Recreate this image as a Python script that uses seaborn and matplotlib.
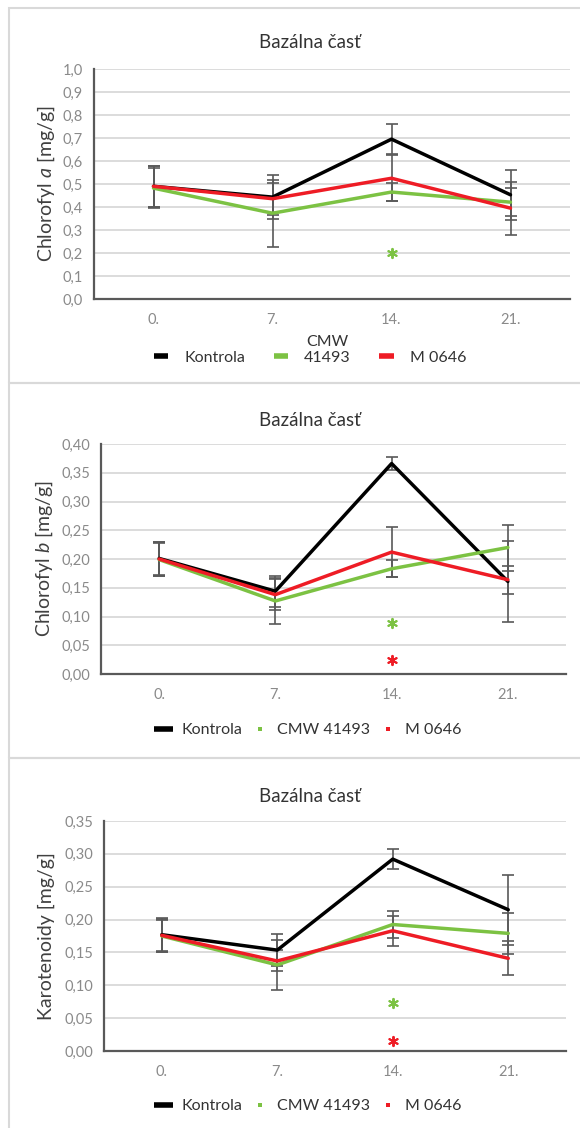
import numpy as np
import pandas as pd
import seaborn as sns
import matplotlib
matplotlib.use("Agg")
import matplotlib.pyplot as plt
from matplotlib.lines import Line2D
from matplotlib.patches import Rectangle
from matplotlib.ticker import FuncFormatter, MultipleLocator

# ---------------- data ----------------
days = ["0.", "7.", "14.", "21."]
series_names = ["Kontrola", "CMW 41493", "M 0646"]
panel_title = "Bazálna časť"

chla_kontrola = [0.490, 0.443, 0.695, 0.453]
chla_cmw = [0.482, 0.373, 0.465, 0.421]
chla_m0646 = [0.490, 0.436, 0.525, 0.395]
chla_err_kontrola = [0.088, 0.095, 0.065, 0.110]
chla_err_cmw = [0.088, 0.145, 0.040, 0.060]
chla_err_m0646 = [0.088, 0.070, 0.100, 0.115]
chla_star_cmw = [None, None, 0.200, None]
chla_star_m0646 = [None, None, None, None]

chlb_kontrola = [0.201, 0.144, 0.366, 0.161]
chlb_cmw = [0.199, 0.127, 0.183, 0.220]
chlb_m0646 = [0.200, 0.138, 0.212, 0.164]
chlb_err_kontrola = [0.029, 0.027, 0.011, 0.070]
chlb_err_cmw = [0.029, 0.040, 0.015, 0.040]
chlb_err_m0646 = [0.029, 0.027, 0.043, 0.024]
chlb_star_cmw = [None, None, 0.088, None]
chlb_star_m0646 = [None, None, 0.024, None]

kar_kontrola = [0.177, 0.1535, 0.292, 0.215]
kar_cmw = [0.175, 0.131, 0.1925, 0.179]
kar_m0646 = [0.176, 0.137, 0.183, 0.141]
kar_err_kontrola = [0.025, 0.024, 0.015, 0.053]
kar_err_cmw = [0.025, 0.038, 0.021, 0.031]
kar_err_m0646 = [0.025, 0.016, 0.023, 0.026]
kar_star_cmw = [None, None, 0.073, None]
kar_star_m0646 = [None, None, 0.015, None]

colors = ["#000000", "#7cc243", "#ee1c25"]

# ---------------- style ----------------
sns.set_theme(style="white")
plt.rcParams["font.family"] = ["Lato", "DejaVu Sans"]
plt.rcParams["mathtext.fontset"] = "custom"
plt.rcParams["mathtext.it"] = "Lato:italic"
plt.rcParams["mathtext.rm"] = "Lato"

W, H = 580, 1128
fig = plt.figure(figsize=(W / 100, H / 100), dpi=100)
fig.patch.set_facecolor("white")

def fx(px):
    return px / W

def fy(py):
    return 1 - py / H

panels = [
    dict(vals=[chla_kontrola, chla_cmw, chla_m0646],
         errs=[chla_err_kontrola, chla_err_cmw, chla_err_m0646],
         stars=[chla_star_cmw, chla_star_m0646],
         ylim=1.0, step=0.1, fmt="{:.1f}",
         ylabel="Chlorofyl $\\it{a}$ [mg/g]",
         box=(94, 570, 69, 299), frame=(9, 8, 383), title_y=43, ylab_x=46,
         legend_y=358, legend_style="lines"),
    dict(vals=[chlb_kontrola, chlb_cmw, chlb_m0646],
         errs=[chlb_err_kontrola, chlb_err_cmw, chlb_err_m0646],
         stars=[chlb_star_cmw, chlb_star_m0646],
         ylim=0.40, step=0.05, fmt="{:.2f}",
         ylabel="Chlorofyl $\\it{b}$ [mg/g]",
         box=(101, 566, 444, 674), frame=(9, 383, 758), title_y=420, ylab_x=44,
         legend_y=730, legend_style="squares"),
    dict(vals=[kar_kontrola, kar_cmw, kar_m0646],
         errs=[kar_err_kontrola, kar_err_cmw, kar_err_m0646],
         stars=[kar_star_cmw, kar_star_m0646],
         ylim=0.35, step=0.05, fmt="{:.2f}",
         ylabel="Karotenoidy [mg/g]",
         box=(104, 566, 821, 1051), frame=(9, 758, 1140), title_y=797, ylab_x=46,
         legend_y=1106, legend_style="squares"),
]

positions = np.arange(len(days))
cmw_texts = []

for p in panels:
    # panel frame
    x0, ytop, ybot = p["frame"]
    fig.add_artist(Rectangle((fx(x0), fy(ybot)), fx(W + 20 - x0), fy(ytop) - fy(ybot),
                             transform=fig.transFigure, fill=False,
                             edgecolor="#d9d9d9", lw=1.5, zorder=0))
    l, r, t, b = p["box"]
    ax = fig.add_axes([fx(l), fy(b), fx(r - l), fy(t) - fy(b)])
    ax.set_facecolor("none")

    rows = []
    for name, vals in zip(series_names, p["vals"]):
        for pos, v in zip(positions, vals):
            rows.append(dict(pos=pos, value=v, series=name))
    df = pd.DataFrame(rows)

    for name, vals, err, c in zip(series_names, p["vals"], p["errs"], colors):
        ax.errorbar(positions, vals, yerr=err, fmt="none", ecolor="#595959",
                    elinewidth=1.2, capsize=4, capthick=1.2, zorder=2)

    sns.lineplot(data=df, x="pos", y="value", hue="series", hue_order=series_names,
                 palette=colors, linewidth=2.5, legend=False, sort=False,
                 estimator=None, ax=ax, zorder=3)

    for star_vals, c in zip(p["stars"], colors[1:]):
        xs = [pos for pos, s in zip(positions, star_vals) if s is not None]
        ys = [s for s in star_vals if s is not None]
        if xs:
            ax.scatter(xs, ys, marker=(6, 2, 0), s=45, color=c, linewidths=1.4, zorder=4)

    ax.set_xlim(-0.5, len(days) - 0.5)
    ax.set_ylim(0, p["ylim"])
    ax.yaxis.set_major_locator(MultipleLocator(p["step"]))
    ax.yaxis.set_major_formatter(FuncFormatter(lambda v, _, f=p["fmt"]: f.format(v).replace(".", ",")))
    ax.set_xticks(positions)
    ax.set_xticklabels(days)
    ax.set_xlabel("")
    ax.set_ylabel("")
    ax.grid(axis="y", color="#d9d9d9", lw=1.3)
    ax.grid(axis="x", visible=False)
    ax.set_axisbelow(True)
    for s in ["top", "right"]:
        ax.spines[s].set_visible(False)
    for s in ["left", "bottom"]:
        ax.spines[s].set_color("#595959")
        ax.spines[s].set_linewidth(1.6)
    ax.tick_params(axis="y", length=0, pad=8, labelsize=10.5, labelcolor="#8a8a8a")
    ax.tick_params(axis="x", length=0, pad=10, labelsize=10.5, labelcolor="#8a8a8a")

    fig.text(fx(310), fy(p["title_y"]), panel_title, ha="center", va="center",
             fontsize=13.5, color="#333333")
    fig.text(fx(p["ylab_x"]), fy((t + b) / 2), p["ylabel"], rotation=90,
             ha="center", va="center", fontsize=14, color="#404040")

    if p["legend_style"] == "lines":
        handles = [Line2D([], [], color=c, lw=4, solid_capstyle="butt") for c in colors]
        labels = ["Kontrola", "41493", "M 0646"]
        leg = fig.legend(handles, labels, loc="center", ncol=3,
                         bbox_to_anchor=(fx(310), fy(p["legend_y"])),
                         bbox_transform=fig.transFigure, frameon=False,
                         fontsize=11.5, handlelength=0.9, handletextpad=1.0,
                         columnspacing=1.8, labelcolor="#333333")
        cmw_texts.append(leg.get_texts()[1])
    else:
        handles = [Line2D([], [], color=colors[0], lw=4, solid_capstyle="butt")]
        handles += [Line2D([], [], color=c, lw=0, marker="s", markersize=3.5,
                           markeredgewidth=0) for c in colors[1:]]
        leg = fig.legend(handles, series_names, loc="center", ncol=3,
                         bbox_to_anchor=(fx(308), fy(p["legend_y"])),
                         bbox_transform=fig.transFigure, frameon=False,
                         fontsize=11.5, handlelength=1.2, handletextpad=0.5,
                         columnspacing=0.5, labelcolor="#333333")

# place "CMW" above "41493" in the first legend
fig.canvas.draw()
renderer = fig.canvas.get_renderer()
for txt in cmw_texts:
    bb = txt.get_window_extent(renderer).transformed(fig.transFigure.inverted())
    fig.text((bb.x0 + bb.x1) / 2, bb.y1 + 2 / H, "CMW", ha="center", va="bottom",
             fontsize=11.5, color="#333333")

fig.savefig("out.png", dpi=100, facecolor="white")
